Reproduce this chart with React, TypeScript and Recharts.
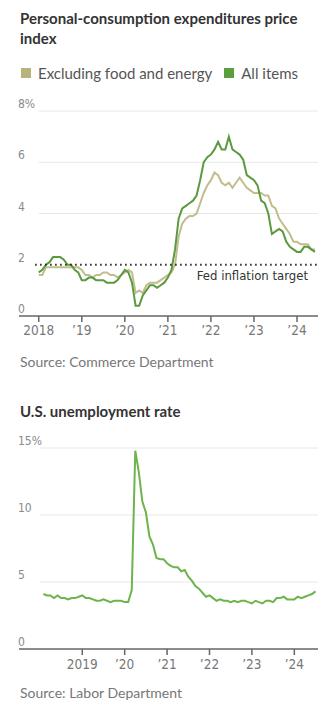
import { LineChart, Line, XAxis, YAxis, ReferenceLine } from "recharts";

// month index 0 = Jan 2018
const pceMonths = [
  0, 1, 2, 3, 4, 5, 6, 7, 8, 9, 10, 11, 12, 13, 14, 15, 16, 17, 18, 19, 20, 21, 22, 23, 24, 25, 26, 27, 28, 29, 30, 31, 32, 33, 34, 35, 36, 37, 38, 39,
  40, 41, 42, 43, 44, 45, 46, 47, 48, 49, 50, 51, 52, 53, 54, 55, 56, 57, 58, 59, 60, 61, 62, 63, 64, 65, 66, 67, 68, 69, 70, 71, 72, 73, 74, 75, 76, 77,
];
const pceAllItems = [
  1.7, 1.8, 2.0, 2.1, 2.3, 2.3, 2.3, 2.2, 2.0, 2.0, 1.8, 1.7,
  1.4, 1.4, 1.5, 1.5, 1.4, 1.4, 1.4, 1.3, 1.3, 1.3, 1.4, 1.6,
  1.8, 1.7, 1.3, 0.4, 0.4, 0.8, 1.0, 1.2, 1.2, 1.1, 1.2, 1.3,
  1.5, 1.8, 2.6, 3.8, 4.2, 4.3, 4.4, 4.5, 4.7, 5.3, 6.0, 6.2,
  6.3, 6.5, 6.8, 6.5, 6.5, 7.0, 6.5, 6.4, 6.3, 6.1, 5.5, 5.4,
  5.3, 5.1, 4.5, 4.4, 4.0, 3.2, 3.3, 3.4, 3.3, 2.9, 2.7, 2.6,
  2.5, 2.5, 2.7, 2.7, 2.6, 2.5,
];
const pceCore = [
  1.6, 1.6, 1.9, 1.9, 1.9, 1.9, 1.9, 1.9, 1.9, 1.9, 1.9, 1.9,
  1.8, 1.6, 1.6, 1.5, 1.6, 1.6, 1.7, 1.7, 1.6, 1.6, 1.5, 1.6,
  1.7, 1.8, 1.7, 0.9, 1.0, 0.9, 1.2, 1.3, 1.3, 1.3, 1.4, 1.5,
  1.6, 1.7, 2.0, 3.1, 3.6, 3.8, 3.9, 3.9, 4.0, 4.4, 4.8, 5.1,
  5.3, 5.6, 5.5, 5.2, 5.1, 5.2, 5.0, 5.2, 5.4, 5.2, 5.0, 4.9,
  4.8, 4.8, 4.8, 4.7, 4.7, 4.3, 4.2, 3.8, 3.6, 3.4, 3.2, 2.9,
  2.9, 2.8, 2.8, 2.8, 2.6, 2.6,
];

const joblessMonths = [
  1, 2, 3, 4, 5, 6, 7, 8, 9, 10, 11, 12, 13, 14, 15, 16, 17, 18, 19, 20, 21, 22, 23, 24, 25, 26, 27, 28, 29, 30, 31, 32, 33, 34, 35, 36, 37, 38, 39,
  40, 41, 42, 43, 44, 45, 46, 47, 48, 49, 50, 51, 52, 53, 54, 55, 56, 57, 58, 59, 60, 61, 62, 63, 64, 65, 66, 67, 68, 69, 70, 71, 72, 73, 74, 75, 76, 77, 78,
];
const unemployment = [
  4.1, 4.0, 4.0, 3.8, 4.0, 3.8, 3.8, 3.7, 3.8, 3.8, 3.9,
  4.0, 3.8, 3.8, 3.7, 3.6, 3.6, 3.7, 3.6, 3.5, 3.6, 3.6, 3.6,
  3.5, 3.5, 4.4, 14.8, 13.2, 11.0, 10.2, 8.4, 7.8, 6.8, 6.7, 6.7,
  6.4, 6.2, 6.1, 6.1, 5.8, 5.9, 5.4, 5.1, 4.7, 4.5, 4.2, 3.9,
  4.0, 3.8, 3.6, 3.7, 3.6, 3.6, 3.5, 3.6, 3.5, 3.6, 3.6, 3.5,
  3.4, 3.6, 3.5, 3.4, 3.6, 3.6, 3.5, 3.8, 3.8, 3.9, 3.7, 3.7,
  3.7, 3.9, 3.8, 3.9, 4.0, 4.1, 4.3,
];

const yearTicks = [0, 12, 24, 36, 48, 60, 72];
const yearLabels = ["2018", "\u201919", "\u201920", "\u201921", "\u201922", "\u201923", "\u201924"];
const joblessYearTicks = [12, 24, 36, 48, 60, 72];
const joblessYearLabels = ["2019", "\u201920", "\u201921", "\u201922", "\u201923", "\u201924"];
const pceYTicks = [0, 2, 4, 6, 8];
const pceGrid = [4, 6, 8];
const joblessYTicks = [0, 5, 10, 15];
const joblessGrid = [5, 10, 15];

const NARROW = "'Liberation Sans Narrow', 'DejaVu Sans Condensed', sans-serif";
const SANS = "Lato, 'Open Sans', sans-serif";

const pceData = pceMonths.map((m, i) => ({ m, all: pceAllItems[i], core: pceCore[i] }));
const joblessData = joblessMonths.map((m, i) => ({ m, rate: unemployment[i] }));

function yTick(top: number) {
  return (props: any) => {
    const v = props.payload.value;
    return (
      <text x={18} y={props.y - 3} fill="#8a8a8a" fontSize={12} fontFamily={NARROW} textAnchor="start">
        {v === top ? `${v}%` : v}
      </text>
    );
  };
}

const titleStyle: React.CSSProperties = {
  position: "absolute",
  left: 20,
  fontFamily: SANS,
  fontWeight: 700,
  fontSize: 15,
  lineHeight: "20px",
  color: "#333",
};
const sourceStyle: React.CSSProperties = {
  position: "absolute",
  left: 20,
  fontFamily: SANS,
  fontSize: 14,
  color: "#777",
};

export default function App() {
  const pceMax = 77.85;
  const joblessMax = 78.7;
  return (
    <div style={{ position: "absolute", left: 0, top: 0, width: 330, height: 714, background: "#fff", overflow: "hidden" }}>
      <div style={{ position: "absolute", left: 0, top: 0 }}>
        <LineChart width={330} height={345} data={pceData} margin={{ top: 111, right: 12, left: 0, bottom: 0 }}>
          {pceGrid.map((g) => (
            <ReferenceLine key={g} segment={[{ x: 0, y: g }, { x: pceMax, y: g }]} stroke="#e8e8e8" strokeWidth={1} />
          ))}
          <XAxis
            type="number"
            dataKey="m"
            domain={[-5.5, pceMax]}
            allowDataOverflow
            ticks={yearTicks}
            tickFormatter={(v: number) => yearLabels[yearTicks.indexOf(v)]}
            height={29}
            stroke="#666"
            strokeWidth={1.5}
            tickSize={6}
            tickMargin={3}
            tick={{ fill: "#777", fontSize: 13.5, fontFamily: NARROW }}
          />
          <YAxis
            width={19}
            domain={[0, 8]}
            ticks={pceYTicks}
            axisLine={false}
            tickLine={false}
            tick={yTick(8)}
          />
          <Line dataKey="core" stroke="#c2bd8c" strokeWidth={2} dot={false} isAnimationActive={false} />
          <Line dataKey="all" stroke="#5b9a40" strokeWidth={2} dot={false} isAnimationActive={false} />
          <ReferenceLine
            segment={[{ x: -1, y: 2 }, { x: pceMax, y: 2 }]}
            stroke="#222"
            strokeWidth={2}
            strokeDasharray="1.5 3.5"
          />
        </LineChart>
      </div>

      <div style={{ ...titleStyle, top: 8 }}>
        Personal-consumption expenditures price
        <br />
        index
      </div>
      <div style={{ position: "absolute", top: 64, left: 21, fontFamily: SANS, fontSize: 15, color: "#555", display: "flex", alignItems: "center" }}>
        <span style={{ width: 10, height: 10, background: "#b7b37b", display: "inline-block", marginRight: 7 }} />
        <span>Excluding food and energy</span>
        <span style={{ width: 10, height: 10, background: "#5a9e3d", display: "inline-block", marginLeft: 12, marginRight: 7 }} />
        <span>All items</span>
      </div>
      <div style={{ position: "absolute", top: 268, left: 0, width: 308, textAlign: "right", fontFamily: NARROW, fontSize: 13, color: "#333" }}>
        Fed inflation target
      </div>
      <div style={{ ...sourceStyle, top: 353 }}>Source: Commerce Department</div>

      <div style={{ ...titleStyle, top: 401 }}>U.S. unemployment rate</div>
      <div style={{ position: "absolute", left: 0, top: 380 }}>
        <LineChart width={330} height={300} data={joblessData} margin={{ top: 68, right: 12, left: 0, bottom: 0 }}>
          {joblessGrid.map((g) => (
            <ReferenceLine key={g} segment={[{ x: 0, y: g }, { x: joblessMax, y: g }]} stroke="#e8e8e8" strokeWidth={1} />
          ))}
          <XAxis
            type="number"
            dataKey="m"
            domain={[-5.9, joblessMax]}
            allowDataOverflow
            ticks={joblessYearTicks}
            tickFormatter={(v: number) => joblessYearLabels[joblessYearTicks.indexOf(v)]}
            height={31}
            stroke="#666"
            strokeWidth={1.5}
            tickSize={6}
            tickMargin={4}
            tick={{ fill: "#777", fontSize: 13.5, fontFamily: NARROW }}
          />
          <YAxis
            width={19}
            domain={[0, 15]}
            ticks={joblessYTicks}
            axisLine={false}
            tickLine={false}
            tick={yTick(15)}
          />
          <Line dataKey="rate" stroke="#6cb44b" strokeWidth={2} dot={false} isAnimationActive={false} />
        </LineChart>
      </div>
      <div style={{ ...sourceStyle, top: 684 }}>Source: Labor Department</div>
    </div>
  );
}
